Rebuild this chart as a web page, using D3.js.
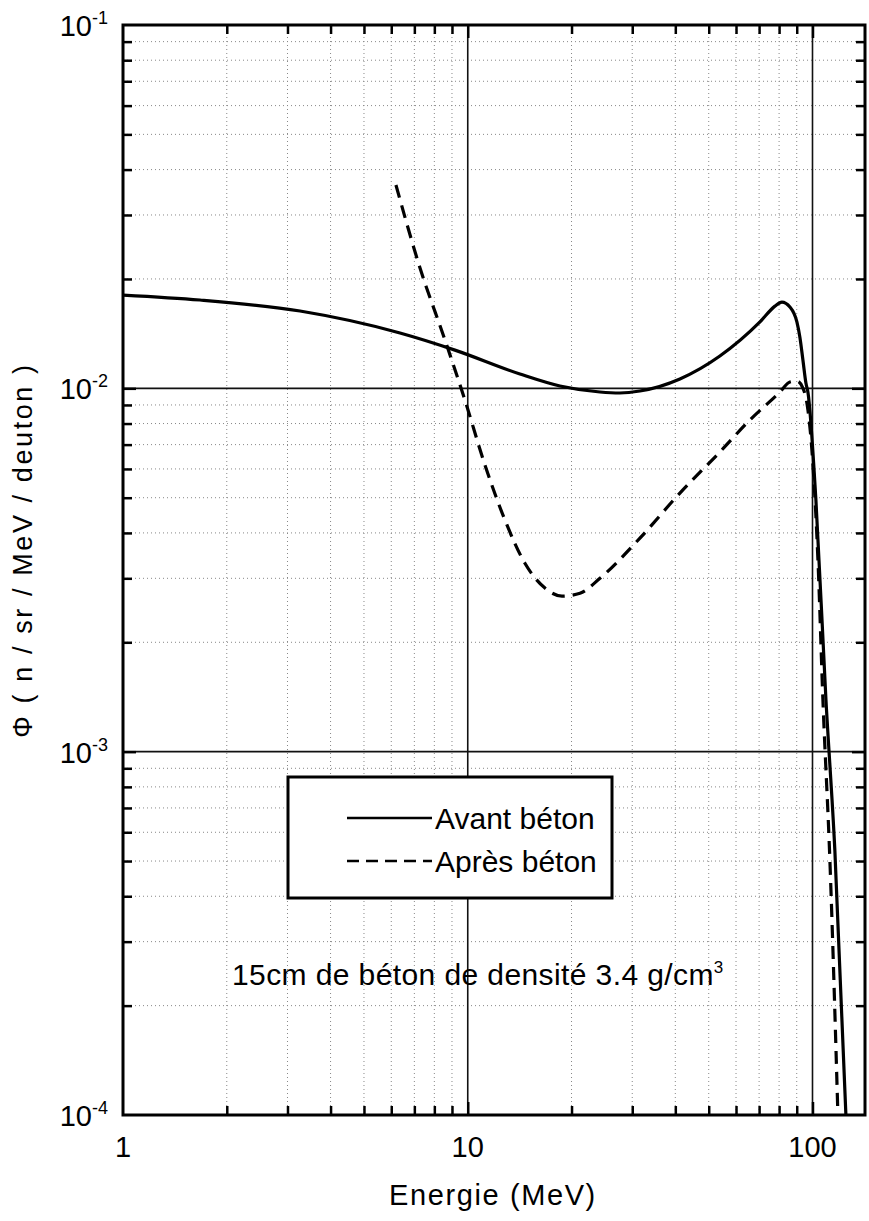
<!DOCTYPE html>
<html>
<head>
<meta charset="utf-8">
<script src="https://cdnjs.cloudflare.com/ajax/libs/d3/7.8.5/d3.min.js"></script>
<style>
  html, body { margin: 0; padding: 0; background: #fff; }
  svg { display: block; font-family: "Liberation Sans", Arial, sans-serif; }
</style>
</head>
<body>
<svg id="chart" width="869" height="1221"></svg>
<script>
// Neutron spectrum before and after the concrete shield
const energyAvant = [1, 1.672, 3.262, 6.36, 9.18, 14.17, 18.51, 24.18, 27.63, 31.58, 41.25, 53.87, 70.4, 77.8, 81.5, 86.0, 90.1, 91.9, 93.8, 95.7, 97.0, 102.3, 109.4, 116.1, 125.0];
const fluxAvant   = [0.01806, 0.0175, 0.01632, 0.0142, 0.01274, 0.01095, 0.01015, 0.00977, 0.00971, 0.00983, 0.01061, 0.01227, 0.01523, 0.01684, 0.01728, 0.01675, 0.01523, 0.01384, 0.01197, 0.01034, 0.00975, 0.00493, 0.00139, 0.000536, 0.0001];

const energyApres = [6.19, 7.27, 8.59, 9.81, 11.22, 12.82, 14.65, 16.75, 18.76, 21.16, 24.18, 31.58, 41.25, 53.87, 65.82, 80.45, 86.0, 90.1, 93.8, 97.0, 99.6, 103.7, 107.2, 112.3, 118.5];
const fluxApres   = [0.03627, 0.02144, 0.01358, 0.00929, 0.00615, 0.00434, 0.0033, 0.00282, 0.00268, 0.00273, 0.003, 0.00387, 0.00515, 0.00668, 0.00818, 0.00977, 0.01041, 0.01047, 0.01002, 0.00872, 0.00676, 0.00337, 0.00139, 0.000504, 0.0001];

const seriesLabels = ["Avant béton", "Après béton"];
const xTickValues = [1, 10, 100];
const xTickLabels = ["1", "10", "100"];
const yTickValues = [1e-1, 1e-2, 1e-3, 1e-4];
const yTickExponents = ["-1", "-2", "-3", "-4"];
const xTitle = "Energie (MeV)";
const yTitle = "Φ ( n / sr / MeV / deuton )";
const noteText = "15cm de béton de densité 3.4 g/cm";
const noteSup = "3";

const svg = d3.select("#chart");
const pLeft = 123, pRight = 865, pTop = 25, pBottom = 1115;

const x = d3.scaleLog().domain([1, 142]).range([pLeft, pRight]);
const y = d3.scaleLog().domain([1e-4, 1e-1]).range([pBottom, pTop]);

// minor positions in each decade
const xMinor = [];
for (let d = 1; d <= 100; d *= 10)
  for (let k = 2; k <= 9; k++) if (d * k < 142) xMinor.push(d * k);
const yMinor = [];
for (let d = 1e-4; d < 1e-1; d *= 10)
  for (let k = 2; k <= 9; k++) yMinor.push(d * k);

// dotted minor grid
const grid = svg.append("g");
grid.selectAll(".vminor").data(xMinor).join("line")
  .attr("x1", d => x(d)).attr("x2", d => x(d))
  .attr("y1", pTop).attr("y2", pBottom)
  .attr("stroke", "#888").attr("stroke-width", 1).attr("stroke-dasharray", "1,3");
grid.selectAll(".hminor").data(yMinor).join("line")
  .attr("y1", d => y(d)).attr("y2", d => y(d))
  .attr("x1", pLeft).attr("x2", pRight)
  .attr("stroke", "#888").attr("stroke-width", 1).attr("stroke-dasharray", "1,3");

// solid major grid
grid.selectAll(".vmajor").data([10, 100]).join("line")
  .attr("x1", d => x(d)).attr("x2", d => x(d))
  .attr("y1", pTop).attr("y2", pBottom)
  .attr("stroke", "#111").attr("stroke-width", 1.6);
grid.selectAll(".hmajor").data([1e-2, 1e-3]).join("line")
  .attr("y1", d => y(d)).attr("y2", d => y(d))
  .attr("x1", pLeft).attr("x2", pRight)
  .attr("stroke", "#111").attr("stroke-width", 1.6);

// inward ticks on all four sides via d3 axes
function tickAxis(axisGen, transform, size, values) {
  svg.append("g").attr("transform", transform)
    .call(axisGen.tickValues(values).tickSize(size).tickFormat(""))
    .call(g => g.select(".domain").remove())
    .call(g => g.selectAll(".tick line").attr("stroke", "#000").attr("stroke-width", 2.5));
}
tickAxis(d3.axisTop(x), `translate(0,${pBottom})`, 9, xMinor);
tickAxis(d3.axisTop(x), `translate(0,${pBottom})`, 13, [10, 100]);
tickAxis(d3.axisBottom(x), `translate(0,${pTop})`, 9, xMinor);
tickAxis(d3.axisBottom(x), `translate(0,${pTop})`, 13, [10, 100]);
tickAxis(d3.axisRight(y), `translate(${pLeft},0)`, 9, yMinor);
tickAxis(d3.axisRight(y), `translate(${pLeft},0)`, 13, [1e-2, 1e-3]);
tickAxis(d3.axisLeft(y), `translate(${pRight},0)`, 9, yMinor);
tickAxis(d3.axisLeft(y), `translate(${pRight},0)`, 13, [1e-2, 1e-3]);

// curves
const line = d3.line().x(d => x(d[0])).y(d => y(d[1])).curve(d3.curveMonotoneX);
svg.append("clipPath").attr("id", "plotclip")
  .append("rect").attr("x", pLeft).attr("y", pTop).attr("width", pRight - pLeft).attr("height", pBottom - pTop);

svg.append("path")
  .datum(energyAvant.map((e, i) => [e, fluxAvant[i]]))
  .attr("d", line).attr("fill", "none").attr("stroke", "#000").attr("stroke-width", 3.2)
  .attr("stroke-linejoin", "round")
  .attr("clip-path", "url(#plotclip)");
svg.append("path")
  .datum(energyApres.map((e, i) => [e, fluxApres[i]]))
  .attr("d", line).attr("fill", "none").attr("stroke", "#000").attr("stroke-width", 3.2)
  .attr("stroke-dasharray", "13,8")
  .attr("clip-path", "url(#plotclip)");

// legend
const lg = svg.append("g");
lg.append("rect").attr("x", 288).attr("y", 777).attr("width", 324).attr("height", 121)
  .attr("fill", "#fff").attr("stroke", "#000").attr("stroke-width", 3);
lg.append("line").attr("x1", 347).attr("x2", 432).attr("y1", 818).attr("y2", 818)
  .attr("stroke", "#000").attr("stroke-width", 2.5);
lg.append("line").attr("x1", 347).attr("x2", 432).attr("y1", 861).attr("y2", 861)
  .attr("stroke", "#000").attr("stroke-width", 2.5).attr("stroke-dasharray", "12,7");
lg.selectAll("text").data(seriesLabels).join("text")
  .attr("x", 435).attr("y", (d, i) => 829 + i * 43)
  .attr("font-size", 30).text(d => d);

// frame
svg.append("rect").attr("x", pLeft).attr("y", pTop).attr("width", pRight - pLeft).attr("height", pBottom - pTop)
  .attr("fill", "none").attr("stroke", "#000").attr("stroke-width", 3);

// x tick labels
svg.selectAll(".xlab").data(xTickValues).join("text")
  .attr("x", d => x(d)).attr("y", 1157).attr("text-anchor", "middle")
  .attr("font-size", 29).text((d, i) => xTickLabels[i]);

// y tick labels 10^n
yTickValues.forEach((v, i) => {
  const t = svg.append("text").attr("x", 108).attr("y", y(v) + 11).attr("text-anchor", "end").attr("font-size", 29);
  t.append("tspan").text("10");
  t.append("tspan").attr("dy", -12).attr("font-size", 18).text(yTickExponents[i]);
});

// axis titles
svg.append("text").attr("x", 493).attr("y", 1205).attr("text-anchor", "middle")
  .attr("font-size", 29).attr("letter-spacing", 1.6).text(xTitle);
svg.append("text").attr("transform", "translate(32,550) rotate(-90)").attr("text-anchor", "middle")
  .attr("font-size", 27).attr("letter-spacing", 2.6).text(yTitle);

// annotation
const note = svg.append("text").attr("x", 232).attr("y", 985).attr("font-size", 30).attr("letter-spacing", 0.4);
note.append("tspan").text(noteText);
note.append("tspan").attr("dy", -12).attr("font-size", 17).text(noteSup);
</script>
</body>
</html>
